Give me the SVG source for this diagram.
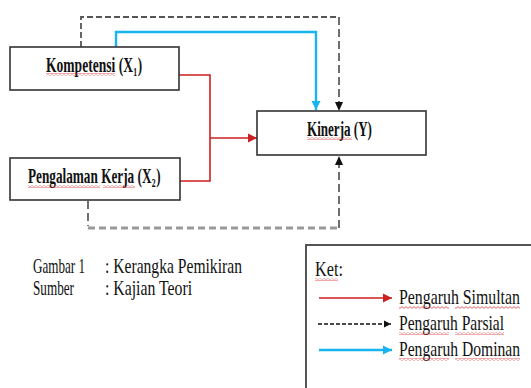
<svg xmlns="http://www.w3.org/2000/svg" width="531" height="388" viewBox="0 0 531 388">
<style>
.box{fill:#fff;stroke:#333;stroke-width:1.6}
.lbl{font-family:"Liberation Serif","Times New Roman",serif;font-weight:bold;font-size:22px;fill:#111}
.sub{font-family:"Liberation Serif","Times New Roman",serif;font-weight:bold;font-size:13px;fill:#111}
.txt{font-family:"Liberation Serif","Times New Roman",serif;font-size:21px;fill:#111}
.red{fill:none;stroke:#cc1f1f;stroke-width:1.6}
.blue{fill:none;stroke:#18b4ee;stroke-width:2.4}
.dash{fill:none;stroke:#222;stroke-width:1.3;stroke-dasharray:8 4}
.dashg{fill:none;stroke:#555;stroke-width:1.8;stroke-dasharray:6 3}
.dashthick{fill:none;stroke:#999;stroke-width:3;stroke-dasharray:7 4}
.sq{fill:url(#squig)}
</style>
<defs>
<pattern id="squig" width="4" height="3" patternUnits="userSpaceOnUse">
<path d="M0,2.4 L2,0.6 L4,2.4" fill="none" stroke="#e02020" stroke-width="0.7"/>
</pattern>
<marker id="ar" markerWidth="10" markerHeight="10" refX="9" refY="5" orient="auto" markerUnits="userSpaceOnUse">
<path d="M0,0.5 L9,5 L0,9.5 Z" fill="#cc1f1f"/>
</marker>
<marker id="ab" markerWidth="10" markerHeight="10" refX="9" refY="5" orient="auto" markerUnits="userSpaceOnUse">
<path d="M0,0.5 L9,5 L0,9.5 Z" fill="#18b4ee"/>
</marker>
<marker id="ak" markerWidth="10" markerHeight="10" refX="9" refY="5" orient="auto" markerUnits="userSpaceOnUse">
<path d="M0,1 L9,5 L0,9 Z" fill="#111"/>
</marker>
<marker id="aks" markerWidth="8" markerHeight="8" refX="7" refY="4" orient="auto" markerUnits="userSpaceOnUse">
<path d="M0,0.5 L7,4 L0,7.5 Z" fill="#111"/>
</marker>
</defs>

<g id="connectors">
<path class="red" d="M179,75 H210 V181 H180"/>
<path class="red" d="M210,138 H257" marker-end="url(#ar)"/>
<path class="blue" d="M116,47 V32 H316 V110" marker-end="url(#ab)"/>
<path class="dashg" d="M81,47 V17 H339"/>
<path class="dash" d="M339,17 V111" marker-end="url(#ak)"/>
<path class="dash" d="M88,201 V226"/>
<path class="dashthick" d="M88,228 H339"/>
<path class="dash" d="M339,228 V156" marker-end="url(#ak)"/>
</g>

<g id="kompetensi">
<rect class="box" x="10" y="47" width="169" height="43"/>
<text class="lbl" transform="translate(46,72) scale(0.616,1)" textLength="141.2" lengthAdjust="spacingAndGlyphs">Kompetensi (X</text>
<text class="sub" transform="translate(133.3,76) scale(0.6,1)" textLength="6.5" lengthAdjust="spacingAndGlyphs">1</text>
<text class="lbl" transform="translate(137.8,72) scale(0.6,1)" textLength="7.3" lengthAdjust="spacingAndGlyphs">)</text>
<rect class="sq" x="46" y="73" width="69" height="3"/>
</g>

<g id="kinerja">
<rect class="box" x="257" y="111" width="169" height="44"/>
<text class="lbl" transform="translate(307,136) scale(0.594,1)" textLength="109.4" lengthAdjust="spacingAndGlyphs">Kinerja (Y)</text>
<rect class="sq" x="307" y="137" width="45" height="3"/>
</g>

<g id="pengalaman">
<rect class="box" x="10" y="158" width="170" height="42"/>
<text class="lbl" transform="translate(28,183) scale(0.6,1)" textLength="205.8" lengthAdjust="spacingAndGlyphs">Pengalaman Kerja (X</text>
<text class="sub" transform="translate(151.8,187) scale(0.6,1)" textLength="6.5" lengthAdjust="spacingAndGlyphs">2</text>
<text class="lbl" transform="translate(156.3,183) scale(0.6,1)" textLength="7.3" lengthAdjust="spacingAndGlyphs">)</text>
<rect class="sq" x="28" y="185" width="72" height="3"/>
<rect class="sq" x="103" y="185" width="32" height="3"/>
</g>

<g id="caption">
<text class="txt" transform="translate(33,273) scale(0.624,1)" textLength="83.4" lengthAdjust="spacingAndGlyphs">Gambar 1</text>
<text class="txt" transform="translate(105,273) scale(0.743,1)" textLength="184.3" lengthAdjust="spacingAndGlyphs">: Kerangka Pemikiran</text>
<text class="txt" transform="translate(33,295) scale(0.628,1)" textLength="65.3" lengthAdjust="spacingAndGlyphs">Sumber</text>
<text class="txt" transform="translate(105,295) scale(0.739,1)" textLength="117.8" lengthAdjust="spacingAndGlyphs">: Kajian Teori</text>
</g>

<g id="legend">
<path d="M306,388 V245 H531" fill="none" stroke="#555" stroke-width="2"/>
<text class="txt" transform="translate(315,276) scale(0.773,1)" textLength="36.2" lengthAdjust="spacingAndGlyphs">Ket:</text>
<rect class="sq" x="315" y="278" width="23" height="3"/>
<path class="red" d="M319,298 H392" marker-end="url(#ar)"/>
<text class="txt" transform="translate(399,304) scale(0.754,1)" textLength="160.4" lengthAdjust="spacingAndGlyphs">Pengaruh Simultan</text>
<rect class="sq" x="399" y="306" width="50" height="3"/>
<rect class="sq" x="455" y="306" width="65" height="3"/>
<path d="M318,324 H391" fill="none" stroke="#111" stroke-width="1.3" stroke-dasharray="4 2" marker-end="url(#aks)"/>
<text class="txt" transform="translate(399,330) scale(0.741,1)" textLength="141.7" lengthAdjust="spacingAndGlyphs">Pengaruh Parsial</text>
<rect class="sq" x="399" y="332" width="50" height="3"/>
<rect class="sq" x="455" y="332" width="49" height="3"/>
<path class="blue" d="M319,350 H392" marker-end="url(#ab)"/>
<text class="txt" transform="translate(399,356) scale(0.744,1)" textLength="162.7" lengthAdjust="spacingAndGlyphs">Pengaruh Dominan</text>
<rect class="sq" x="399" y="358" width="50" height="3"/>
<rect class="sq" x="455" y="358" width="65" height="3"/>
</g>
</svg>
